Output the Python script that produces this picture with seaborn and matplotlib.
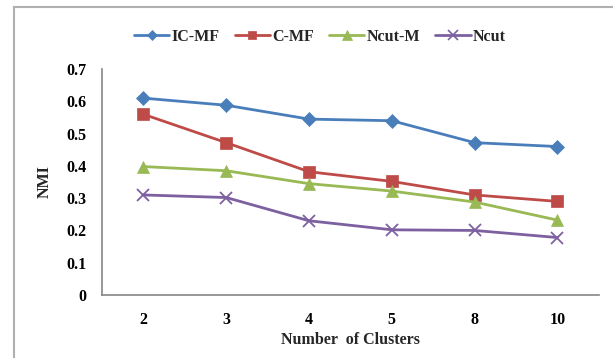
import pandas as pd
import matplotlib.pyplot as plt
import seaborn as sns
from matplotlib.lines import Line2D
from matplotlib.patches import Rectangle

clusters = ['2', '3', '4', '5', '8', '10']
ic_mf = [0.610, 0.588, 0.545, 0.540, 0.472, 0.460]
c_mf = [0.560, 0.472, 0.382, 0.352, 0.310, 0.290]
ncut_m = [0.398, 0.385, 0.345, 0.322, 0.288, 0.232]
ncut = [0.310, 0.302, 0.230, 0.202, 0.200, 0.178]

methods = ['IC-MF', 'C-MF', 'Ncut-M', 'Ncut']
colors = {'IC-MF': '#4a7ebb', 'C-MF': '#be4b48', 'Ncut-M': '#98b954', 'Ncut': '#7d60a0'}
markers = {'IC-MF': 'D', 'C-MF': 's', 'Ncut-M': '^', 'Ncut': 'x'}
msizes = {'IC-MF': 7, 'C-MF': 8, 'Ncut-M': 9, 'Ncut': 9}

rows = []
for name, vals in zip(methods, [ic_mf, c_mf, ncut_m, ncut]):
    for i, v in enumerate(vals):
        rows.append({'pos': i, 'clusters': clusters[i], 'method': name, 'NMI': v})
df = pd.DataFrame(rows)

sns.set_style('white')
plt.rcParams['font.family'] = ['Liberation Serif', 'DejaVu Serif']
plt.rcParams['font.weight'] = 'bold'

fig = plt.figure(figsize=(6.13, 3.58), dpi=100)
ax = fig.add_axes([0.1664, 0.176, 0.8106, 0.631])

for name in methods:
    sub = df[df['method'] == name]
    sns.lineplot(data=sub, x='pos', y='NMI', ax=ax, color=colors[name],
                 marker=markers[name], markersize=msizes[name], linewidth=2,
                 markeredgecolor=colors[name], markeredgewidth=1.3 if name == 'Ncut' else 0.5,
                 legend=False)

ax.set_xlim(-0.5, 5.5)
ax.set_ylim(0, 0.7)
ax.set_yticks([i / 10 for i in range(8)])
ax.set_yticklabels(['0'] + [f'{i / 10:.1f}' for i in range(1, 8)])
ax.set_xticks(range(6))
ax.set_xticklabels(clusters)
ax.set_xticks([i - 0.5 for i in range(7)], minor=True)
ax.tick_params(axis='x', which='major', length=0, pad=12, labelsize=11.5)
ax.tick_params(axis='x', which='minor', length=5, width=1, color='#868686', direction='out')
ax.tick_params(axis='y', length=5, width=1, color='#868686', direction='out', labelsize=11.5, pad=6)
ax.tick_params(axis='both', colors='#868686', labelcolor='black')
ax.xaxis.set_tick_params(which='major', length=0)

for s in ['top', 'right']:
    ax.spines[s].set_visible(False)
for s in ['left', 'bottom']:
    ax.spines[s].set_color('#868686')
    ax.spines[s].set_linewidth(1.2)

ax.set_xlabel('Number  of Clusters', fontsize=11.5, fontweight='bold', labelpad=3)
ax.set_ylabel('NMI', fontsize=11.5, fontweight='bold', labelpad=10)

handles = [Line2D([0], [0], color=colors[m], marker=markers[m], markersize=msizes[m] - 2,
                  linewidth=2, markeredgewidth=1.2 if m == 'Ncut' else 0.5) for m in methods]
fig.legend(handles, methods, loc='center', bbox_to_anchor=(0.522, 0.897), ncol=4,
           frameon=False, handlelength=2.2, handletextpad=0.15,
           columnspacing=0.95, prop={'weight': 'bold', 'size': 11.5})

fig.patches.append(Rectangle((14 / 613, -0.1), 1.2, 1 - 7 / 358 + 0.1, transform=fig.transFigure,
                             fill=False, edgecolor='#b0b0b0', linewidth=1.5))

fig.savefig('out.png', dpi=100)
